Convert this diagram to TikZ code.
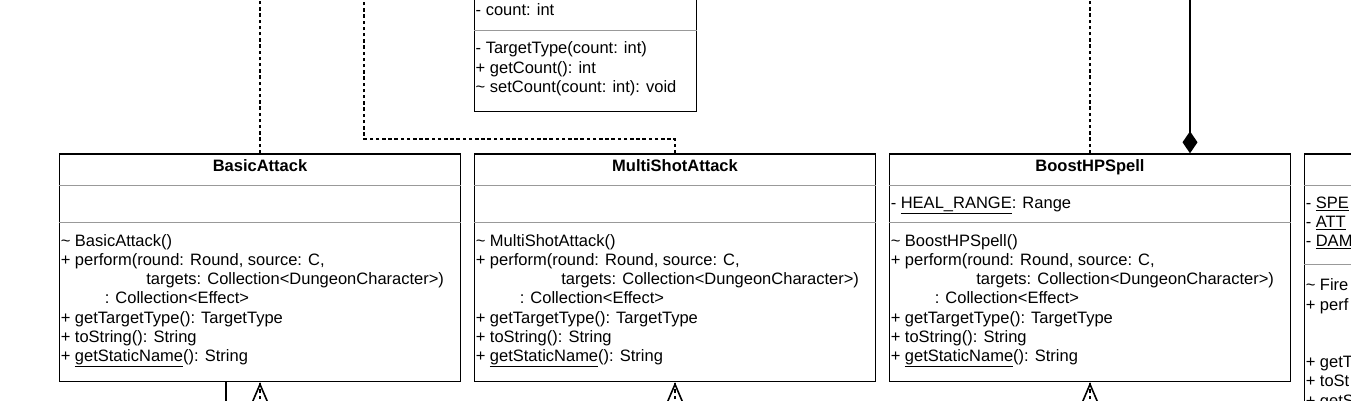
\documentclass[tikz,border=0pt]{standalone}
\usepackage{fontspec}
\setmainfont{Liberation Sans}
\usetikzlibrary{positioning, arrows.meta}
\tikzset{
	umlclass/.style={draw, rectangle, line width=1.4pt, minimum width=401.5pt, minimum height=227.5pt, inner sep=0pt},
	classname/.style={anchor=base, inner sep=0pt, font=\fontsize{16.5pt}{19.2pt}\selectfont\bfseries},
	% base of a multi-line node is the base of its last line
	members/.style={anchor=base west, align=left, inner sep=0pt, xshift=2pt, font=\fontsize{16.5pt}{19.2pt}\selectfont},
	compsep/.style={draw=black!40, line width=0.8pt},
	dep/.style={line width=1.6pt, dash pattern=on 3.5pt off 2.7pt},
	realize/.style={dep, -{Triangle[open, length=24pt, width=20pt]}},
	own/.style={line width=1.4pt, -{Diamond[length=22pt, width=15pt]}},
}

\begin{document}
\begin{tikzpicture}[x=1pt, y=-1pt, node distance=415pt]
	\useasboundingbox (0,0) rectangle (1351,401);
	
	\node (basic) [umlclass] at (260,267.75) {};
	\node (multi) [umlclass, right of=basic] {};
	\node (boost) [umlclass, right of=multi] {};
	\node (fire) [umlclass, right of=boost, minimum height=300pt, yshift=-36.25pt] {};
	\node (target) [umlclass, anchor=south west, minimum width=222.5pt, minimum height=160pt] at (473.5,112.5) {};
	
	% compartments
	\draw[compsep] ([yshift=-32pt]basic.north west) -- ([yshift=-32pt]basic.north east);
	\draw[compsep] ([yshift=-69.5pt]basic.north west) -- ([yshift=-69.5pt]basic.north east);
	\draw[compsep] ([yshift=-32pt]multi.north west) -- ([yshift=-32pt]multi.north east);
	\draw[compsep] ([yshift=-69.5pt]multi.north west) -- ([yshift=-69.5pt]multi.north east);
	\draw[compsep] ([yshift=-32pt]boost.north west) -- ([yshift=-32pt]boost.north east);
	\draw[compsep] ([yshift=-69.5pt]boost.north west) -- ([yshift=-69.5pt]boost.north east);
	\draw[compsep] ([yshift=-32pt]fire.north west) -- ([yshift=-32pt]fire.north east);
	\draw[compsep] ([yshift=-111pt]fire.north west) -- ([yshift=-111pt]fire.north east);
	\draw[compsep] ([yshift=82pt]target.south west) -- ([yshift=82pt]target.south east);
	
	\node (targetattr) [members] at (target.west |- 0,16) {- count: int};
	\node (targetops) [members] at (target.west |- 0,92.4) {- TargetType(count: int)\\
		+ getCount(): int\\
		\textasciitilde{} setCount(count: int): void};
	
	\node (basictitle) [classname] at ([yshift=-18pt]basic.north) {BasicAttack};
	\node (basicops) [members] at ([yshift=-208.2pt]basic.north west) {\textasciitilde{} BasicAttack()\\
		+ perform(round: Round, source: C,\\
		\hspace*{85.5pt}targets: Collection<DungeonCharacter>)\\
		\hspace*{44pt}: Collection<Effect>\\
		+ getTargetType(): TargetType\\
		+ toString(): String\\
		+ \underline{getStaticName}(): String};
	
	\node (multititle) [classname] at ([yshift=-18pt]multi.north) {MultiShotAttack};
	\node (multiops) [members] at ([yshift=-208.2pt]multi.north west) {\textasciitilde{} MultiShotAttack()\\
		+ perform(round: Round, source: C,\\
		\hspace*{85.5pt}targets: Collection<DungeonCharacter>)\\
		\hspace*{44pt}: Collection<Effect>\\
		+ getTargetType(): TargetType\\
		+ toString(): String\\
		+ \underline{getStaticName}(): String};
	
	\node (boosttitle) [classname] at ([yshift=-18pt]boost.north) {BoostHPSpell};
	\node (boostattr) [members] at ([yshift=-55pt]boost.north west) {- \underline{HEAL\_RANGE}: Range};
	\node (boostops) [members] at ([yshift=-208.2pt]boost.north west) {\textasciitilde{} BoostHPSpell()\\
		+ perform(round: Round, source: C,\\
		\hspace*{85.5pt}targets: Collection<DungeonCharacter>)\\
		\hspace*{44pt}: Collection<Effect>\\
		+ getTargetType(): TargetType\\
		+ toString(): String\\
		+ \underline{getStaticName}(): String};
	
	\node (fireattr) [members] at ([yshift=-93.4pt]fire.north west) {- \underline{SPE}\\
		- \underline{ATT}\\
		- \underline{DAM}};
	\node (fireops) [members] at ([yshift=-252.7pt]fire.north west) {\textasciitilde{} Fire\\
		+ perf\\
		{}\\
		\hspace*{44pt}:\\
		+ getT\\
		+ toSt\\
		+ getS};
	
	\coordinate (basicdep) at (260,-20);
	\coordinate (multidep) at (364,-20);
	\coordinate (multibend) at (364,139);
	\coordinate (boostdep) at (1090,-20);
	\coordinate (boostowner) at (1190,-20);
	\coordinate (basicassoc) at (226,430);
	\coordinate (basicsub) at (260,430);
	\coordinate (multisub) at (675,430);
	\coordinate (boostsub) at (1090,430);
	
	\begin{scope}[line width=1.4pt]
		\draw[dep] (basic.north) -- (basicdep);
		\draw[dep] (multi.north) |- (multibend) -- (multidep);
		\draw[dep] (boost.north) -- (boostdep);
		\draw[own] (boostowner) -- (boostowner |- boost.north);
		\draw (basicassoc) -- (basicassoc |- basic.south);
		\draw[dep] (basicsub) -- (basic.south);
		\draw[realize] (basicsub) -- (basic.south);
		\draw[dep] (multisub) -- (multi.south);
		\draw[realize] (multisub) -- (multi.south);
		\draw[dep] (boostsub) -- (boost.south);
		\draw[realize] (boostsub) -- (boost.south);
	\end{scope}
	
\end{tikzpicture}
\end{document}
